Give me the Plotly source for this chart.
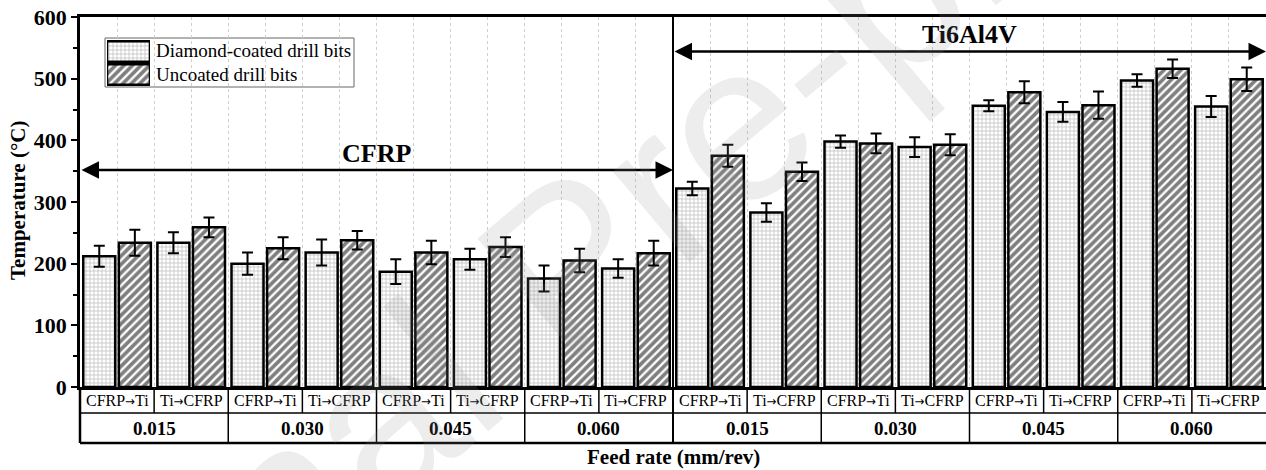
import plotly.graph_objects as go

# ---- data -------------------------------------------------------------
materials = ["CFRP", "Ti6Al4V"]
feed_rates = ["0.015", "0.030", "0.045", "0.060"]
sequences = ["CFRP→Ti", "Ti→CFRP"]
series_names = ["Diamond-coated drill bits", "Uncoated drill bits"]

# order: material -> feed rate -> drilling sequence
diamond = [212, 234, 200, 218, 187, 207, 176, 192,
           322, 283, 398, 389, 456, 446, 497, 455]
diamond_err = [17, 17, 18, 21, 20, 17, 21, 15,
               11, 15, 10, 16, 9, 16, 10, 17]
uncoated = [234, 259, 225, 238, 218, 227, 205, 217,
            375, 349, 395, 393, 478, 457, 516, 499]
uncoated_err = [21, 16, 18, 15, 19, 16, 19, 20,
                18, 15, 16, 17, 18, 22, 15, 19]

n_cat = len(diamond)
xpos = list(range(n_cat))
n_per_mat = n_cat // len(materials)

SERIF = "Liberation Serif"
W, H = 1266, 470
PL, PR, PT, PB = 80, 1266, 17, 387


def px_x(px):
    return (px - PL) / (PR - PL)


def px_y(py):
    return (PB - py) / (PB - PT)


GRID_PAT = dict(shape="+", fgcolor="#6e6e6e", bgcolor="white",
                size=4, solidity=0.3)
HATCH_PAT = dict(shape="/", fgcolor="black", bgcolor="white",
                 size=6, solidity=0.62)
OUTLINE = dict(color="black", width=2.5)

fig = go.Figure()
for name, vals, errs, pat in [
    (series_names[0], diamond, diamond_err, GRID_PAT),
    (series_names[1], uncoated, uncoated_err, HATCH_PAT),
]:
    fig.add_trace(go.Bar(
        x=xpos, y=vals, name=name, showlegend=False,
        marker=dict(color="white", line=OUTLINE, pattern=pat),
        error_y=dict(type="data", array=errs, color="black",
                     thickness=2, width=5.5),
    ))

# legend swatches drawn as bars in a tiny inset subplot
for row, pat in [(1, GRID_PAT), (0, HATCH_PAT)]:
    fig.add_trace(go.Bar(
        x=[1], y=[row], orientation="h", width=0.9, offset=-0.45,
        xaxis="x2", yaxis="y2", showlegend=False, hoverinfo="skip",
        marker=dict(color="white", line=OUTLINE, pattern=pat),
    ))

shapes = []
y_row1_top, y_row1_bot, y_row2_bot = PB, 413, 443


def vline(xp, y0, y1, w):
    shapes.append(dict(type="line", xref="paper", yref="paper",
                       x0=xp, x1=xp, y0=px_y(y0), y1=px_y(y1),
                       line=dict(color="black", width=w)))


def hline(yp, w):
    shapes.append(dict(type="line", xref="paper", yref="paper",
                       x0=0, x1=1, y0=px_y(yp), y1=px_y(yp),
                       line=dict(color="black", width=w)))


# category table under the axis
for k in range(1, n_cat):
    vline(k / n_cat, y_row1_top, y_row1_bot, 1.5)
for k in range(2, n_cat, 2):
    if k != n_per_mat:
        vline(k / n_cat, y_row1_bot, y_row2_bot, 1.5)
vline(0, y_row1_top, y_row2_bot, 2.5)
hline(y_row1_bot, 1.5)
hline(y_row2_bot, 2.5)
# material divider
vline(n_per_mat / n_cat, y_row2_bot, PT, 2)

# legend frame
shapes.append(dict(type="rect", xref="paper", yref="paper", layer="between",
                   x0=px_x(105), x1=px_x(354), y0=px_y(87), y1=px_y(38),
                   fillcolor="white", line=dict(color="#666666", width=1)))


def note(x, y, text, size, bold=False, **kw):
    d = dict(x=x, y=y, xref=kw.pop("xref", "paper"),
             yref=kw.pop("yref", "paper"),
             xanchor=kw.pop("xanchor", "center"),
             yanchor="middle", showarrow=False,
             text=f"<b>{text}</b>" if bold else text,
             font=dict(family=kw.pop("family", SERIF), size=size,
                       color=kw.pop("color", "black")))
    d.update(kw)
    return d


def seq_label(s):
    a, b = s.split("→")
    return (f"{a}<span style='font-family:DejaVu Sans Condensed;"
            f"font-size:13px'>→</span>{b}")


annotations = []
for k in range(n_cat):
    annotations.append(note((k + 0.5) / n_cat, px_y(400.5),
                            seq_label(sequences[k % 2]), 16))
for j in range(n_cat // 2):
    annotations.append(note((2 * j + 1) / n_cat, px_y(428.5),
                            feed_rates[j % len(feed_rates)], 19, bold=True))
annotations.append(note(0.5, px_y(457), "Feed rate (mm/rev)", 21, bold=True))
annotations.append(note(px_x(18), px_y(201), "Temperature (°C)", 21,
                        bold=True, textangle=-90))
for row_y, name in zip([51, 74], series_names):
    annotations.append(note(px_x(154), px_y(row_y), name, 19,
                            xanchor="left"))

# material spans
mid = n_per_mat - 0.5
for label, x0, x1, y_arrow, ly in [
    (materials[0], -0.5, mid, 352, 378),
    (materials[1], mid, n_cat - 0.5, 544, 571),
]:
    annotations.append(dict(
        x=x1, y=y_arrow, ax=x0, ay=y_arrow, xref="x", yref="y",
        axref="x", ayref="y", text="", showarrow=True,
        arrowhead=2, startarrowhead=2, arrowside="end+start",
        arrowsize=1.4, startarrowsize=1.4, arrowwidth=2.5,
        arrowcolor="black", standoff=0, startstandoff=0))
    annotations.append(note((x0 + x1) / 2, ly, label, 26, bold=True,
                            xref="x", yref="y"))

# diagonal watermark
annotations.append(note(px_x(565), px_y(265), "Journal Pre-proof", 225,
                        family="Liberation Sans", textangle=-40,
                        color="rgba(140,140,140,0.16)"))

fig.update_layout(
    width=W, height=H, autosize=False,
    margin=dict(l=PL, r=W - PR, t=PT, b=H - PB),
    paper_bgcolor="white", plot_bgcolor="white",
    barmode="group", bargap=0.04, bargroupgap=0.1,
    showlegend=False,
    shapes=shapes, annotations=annotations,
    xaxis=dict(range=[-0.5, n_cat - 0.5], showticklabels=False, ticks="",
               showgrid=True, dtick=0.5, tick0=-0.5, gridcolor="#cfcfcf",
               griddash="dot", gridwidth=1, zeroline=False,
               showline=True, linecolor="black", linewidth=2.5, mirror=True),
    yaxis=dict(range=[0, 600], dtick=100, ticks="outside", ticklen=6,
               tickwidth=2, tickcolor="black", showgrid=False, zeroline=False,
               showline=True, linecolor="black", linewidth=2.5,
               tickfont=dict(family=SERIF, size=22, color="black",
                             weight="bold"),
               minor=dict(dtick=50, ticks="outside", ticklen=4, tickwidth=2,
                          tickcolor="black", showgrid=False)),
    xaxis2=dict(domain=[px_x(107), px_x(150)], range=[0, 1], anchor="y2",
                visible=False, fixedrange=True),
    yaxis2=dict(domain=[px_y(86), px_y(40)], range=[-0.5, 1.5], anchor="x2",
                visible=False, fixedrange=True),
)

fig.write_html("out.html")
